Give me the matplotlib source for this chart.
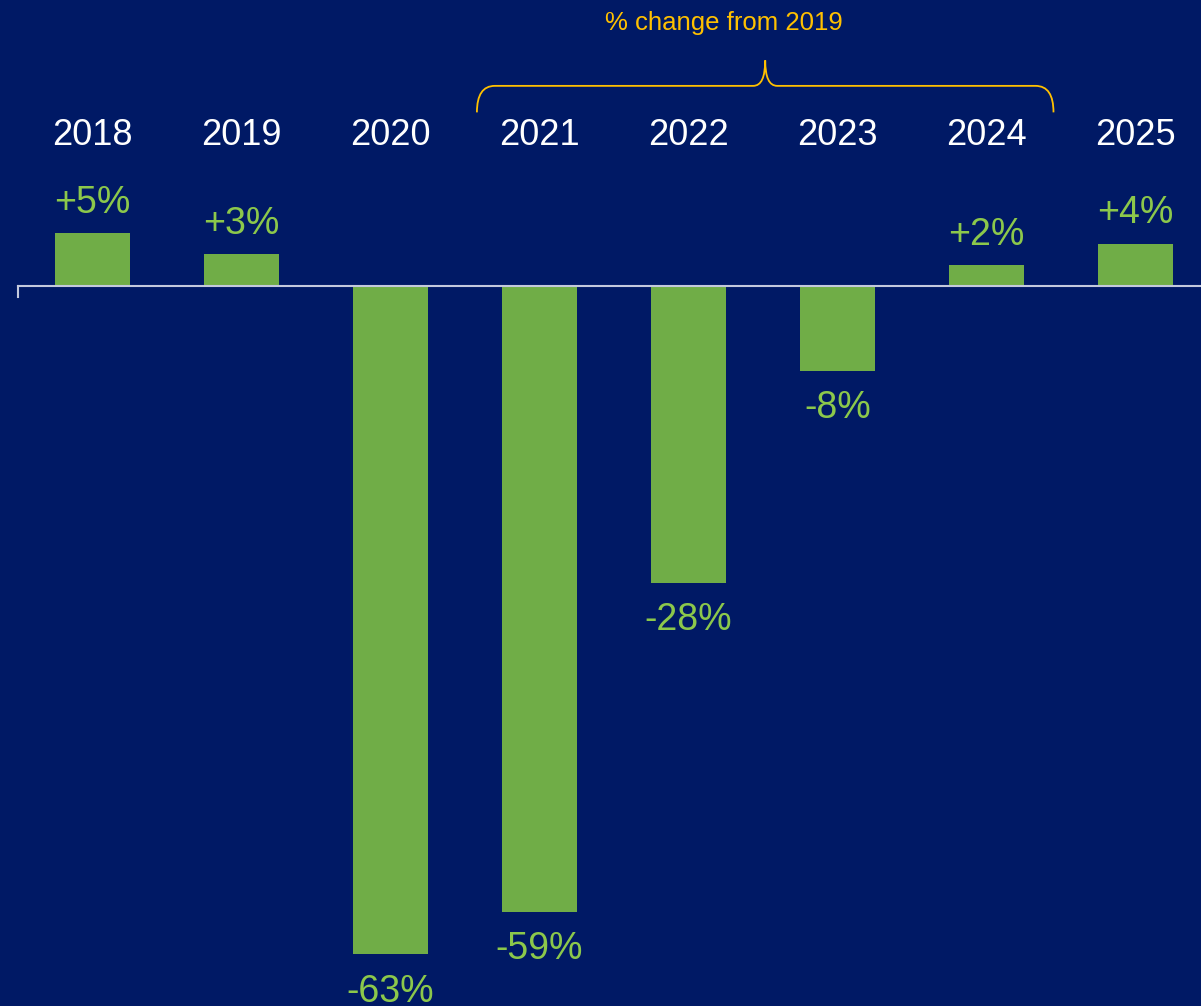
import numpy as np
import matplotlib
matplotlib.use("Agg")
from matplotlib import pyplot as plt
from matplotlib.path import Path
from matplotlib.patches import PathPatch

years = ['2018', '2019', '2020', '2021', '2022', '2023', '2024', '2025']
change = [5, 3, -63, -59, -28, -8, 2, 4]
labels = ['+5%', '+3%', '-63%', '-59%', '-28%', '-8%', '+2%', '+4%']
brace_title = '% change from 2019'
brace_from = '2021'
brace_to = '2024'

bg = '#001965'
green = '#70AD47'
label_green = '#8CC84B'
gold = '#FFC000'
axis_col = '#C3C9DD'

plt.rcParams['font.family'] = ['Liberation Sans', 'DejaVu Sans']

fig = plt.figure(figsize=(12.01, 10.06), dpi=100)
fig.patch.set_facecolor(bg)
ax = fig.add_axes([0.015, 0, 0.985, 1])
ax.set_facecolor(bg)

x_pos = np.arange(len(years))
ax.bar(x_pos, change, width=0.5, color=green, zorder=2)

ax.set_xlim(-0.5, 7.44)
ax.set_ylim(-67.9, 27.0)

# axis line at zero with a little tick at the left end
for s in ['top', 'right']:
    ax.spines[s].set_visible(False)
ax.spines['bottom'].set_position(('data', 0))
ax.spines['bottom'].set_color(axis_col)
ax.spines['bottom'].set_linewidth(1.5)
ax.spines['left'].set_color(axis_col)
ax.spines['left'].set_linewidth(1.5)
ax.spines['left'].set_bounds(-1.05, 0)
ax.set_xticks([])
ax.set_yticks([])

# year labels across the top
for i, yr in enumerate(years):
    ax.text(x_pos[i], 14.2, yr, color='white', fontsize=26, ha='center', va='center')

# value labels
for i, v in enumerate(change):
    if v >= 0:
        ax.annotate(labels[i], (x_pos[i], v), xytext=(0, 9), textcoords='offset points',
                    ha='center', va='bottom', color=label_green, fontsize=27)
    else:
        ax.annotate(labels[i], (x_pos[i], v), xytext=(0, -14), textcoords='offset points',
                    ha='center', va='top', color=label_green, fontsize=27)

# curly brace over 2021-2024
x0 = years.index(brace_from) - 0.42
x1 = years.index(brace_to) + 0.45
xm = (x0 + x1) / 2
yb, yh, yp = 16.4, 18.9, 21.3
verts = [(x0, yb), (x0, yh), (x0 + 0.12, yh),
         (xm - 0.08, yh),
         (xm, yh), (xm, yp),
         (xm, yh), (xm + 0.08, yh),
         (x1 - 0.12, yh),
         (x1, yh), (x1, yb)]
codes = [Path.MOVETO, Path.CURVE3, Path.CURVE3,
         Path.LINETO,
         Path.CURVE3, Path.CURVE3,
         Path.CURVE3, Path.CURVE3,
         Path.LINETO,
         Path.CURVE3, Path.CURVE3]
ax.add_patch(PathPatch(Path(verts, codes), facecolor='none', edgecolor=gold, lw=1.3))
ax.text(xm - 0.28, 24.8, brace_title, color=gold, fontsize=18.5, ha='center', va='center')

plt.savefig('out.png', facecolor=bg)
